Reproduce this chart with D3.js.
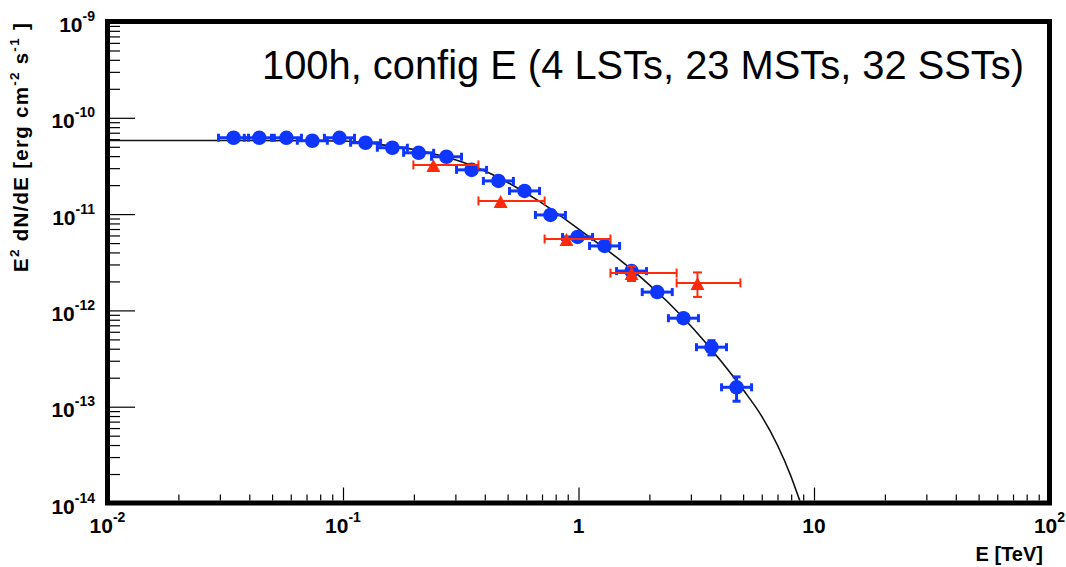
<!DOCTYPE html>
<html><head><meta charset="utf-8">
<script src="https://cdn.jsdelivr.net/npm/d3@7"></script>
<style>
html,body{margin:0;padding:0;background:#fff;}
text{font-family:"Liberation Sans",Arial,Helvetica,sans-serif;}
</style></head>
<body><svg id="c" width="1066" height="567"></svg>
<script>
// ---- data ----
const blueE   = [0.0343,0.0441,0.0575,0.0741,0.0966,0.1247,0.162,0.2095,0.275,0.3515,0.457,0.590,0.760,0.991,1.29,1.68,2.16,2.79,3.67,4.69];
const blueF   = [6.21e-11,6.2e-11,6.2e-11,5.78e-11,6.2e-11,5.51e-11,4.89e-11,4.33e-11,3.94e-11,2.88e-11,2.21e-11,1.74e-11,9.8e-12,5.79e-12,4.67e-12,2.56e-12,1.55e-12,8.3e-13,4.15e-13,1.59e-13];
const blueELo = [0.0296,0.0381,0.0497,0.0640,0.0834,0.1077,0.1399,0.1809,0.2375,0.3035,0.3946,0.5095,0.6563,0.8558,1.114,1.451,1.865,2.409,3.169,4.050];
const blueEHi = [0.0397,0.0511,0.0666,0.0858,0.1119,0.1444,0.1876,0.2426,0.3185,0.4070,0.5292,0.6832,0.8801,1.1476,1.494,1.945,2.501,3.231,4.250,5.431];
const blueFErr= [1.0e-12,1.0e-12,1.0e-12,1.0e-12,1.0e-12,1.0e-12,1.0e-12,1.0e-12,1.0e-12,0.8e-12,0.7e-12,0.6e-12,0.4e-12,0.3e-12,0.25e-12,0.15e-12,0.12e-12,1.2e-13,0.7e-13,0.45e-13];

const redE    = [0.242,0.467,0.889,1.68,3.20];
const redF    = [3.24e-11,1.37e-11,5.51e-12,2.44e-12,1.93e-12];
const redELo  = [0.199,0.376,0.718,1.367,2.61];
const redEHi  = [0.376,0.718,1.367,2.61,4.87];
const redFErr = [1.5e-12,0.6e-12,0.3e-12,0.42e-12,0.55e-12];

const curveE  = [0.01,0.0333,0.1005,0.144,0.188,0.242,0.325,0.411,0.530,0.690,0.897,1.159,1.507,1.888,2.388,3.076,4.009,5.023,5.929,6.998,7.943,8.511,9.016];
const curveF  = [5.82e-11,5.82e-11,5.75e-11,5.27e-11,4.81e-11,4.23e-11,3.43e-11,2.72e-11,1.97e-11,1.33e-11,8.51e-12,5.37e-12,3.31e-12,2.09e-12,1.23e-12,6.46e-13,3.02e-13,1.48e-13,8.32e-14,3.98e-14,1.95e-14,1.23e-14,8.3e-15];

const xTickValues = [0.01,0.1,1,10,100];
const xTickBase   = ["10","10","1","10","10"];
const xTickSup    = ["-2","-1","","","2"];
const yTickValues = [1e-14,1e-13,1e-12,1e-11,1e-10,1e-9];
const yTickBase   = ["10","10","10","10","10","10"];
const yTickSup    = ["-14","-13","-12","-11","-10","-9"];

const annotation = "100h, config E (4 LSTs, 23 MSTs, 32 SSTs)";
const xTitle = "E [TeV]";

// ---- drawing ----
const svg = d3.select("#c");
const L=107.5, R=1049.5, T=21.5, B=503;
const x = d3.scaleLog().domain([0.01,100]).range([L,R]);
const y = d3.scaleLog().domain([1e-14,1e-9]).range([B,T]);
const BLUE="#0f36ff", RED="#ff2a0a";

svg.append("rect").attr("width",1066).attr("height",567).attr("fill","#fff");

// minor tick values
const xMinor=[], yMinor=[];
for (let d=-2; d<2; d++) for (let m=2;m<=9;m++) xMinor.push(m*Math.pow(10,d));
for (let d=-14; d<-9; d++) for (let m=2;m<=9;m++) yMinor.push(m*Math.pow(10,d));

function ticks(g){ g.select(".domain").remove(); g.selectAll("line").attr("stroke","#000").attr("stroke-width",1.2); g.selectAll("text").remove(); }

svg.append("g").attr("transform","translate(110,0)")
  .call(d3.axisRight(y).tickValues(yMinor).tickSize(10).tickFormat("")).call(ticks);
svg.append("g").attr("transform","translate(110,0)")
  .call(d3.axisRight(y).tickValues(yTickValues).tickSize(25).tickFormat("")).call(ticks);
svg.append("g").attr("transform","translate(0,500.5)")
  .call(d3.axisTop(x).tickValues(xMinor).tickSize(6).tickFormat("")).call(ticks);
svg.append("g").attr("transform","translate(0,500.5)")
  .call(d3.axisTop(x).tickValues(xTickValues).tickSize(13).tickFormat("")).call(ticks);

// tick labels
yTickValues.forEach((v,i)=>{
  const t = svg.append("text").attr("x",95).attr("y",y(v)+10.5)
    .attr("text-anchor","end").attr("font-weight","bold").attr("font-size",21);
  t.append("tspan").text(yTickBase[i]);
  t.append("tspan").attr("dy",-11).attr("font-size",14).text(yTickSup[i]);
});
xTickValues.forEach((v,i)=>{
  const t = svg.append("text").attr("x",x(v)).attr("y",533)
    .attr("text-anchor","middle").attr("font-weight","bold").attr("font-size",21);
  t.append("tspan").text(xTickBase[i]);
  if (xTickSup[i]) t.append("tspan").attr("dy",-11).attr("font-size",14).text(xTickSup[i]);
});

// axis titles
svg.append("text").attr("x",1043).attr("y",561).attr("text-anchor","end")
  .attr("font-weight","bold").attr("font-size",20).text(xTitle);

const yt = svg.append("text").attr("transform","translate(28,272) rotate(-90)")
  .attr("font-weight","bold").attr("font-size",20.5);
yt.append("tspan").text("E");
yt.append("tspan").attr("dy",-9).attr("font-size",13.5).text("2");
yt.append("tspan").attr("dy",9).text(" dN/dE [erg cm");
yt.append("tspan").attr("dy",-9).attr("font-size",13.5).text("-2");
yt.append("tspan").attr("dy",9).text(" s");
yt.append("tspan").attr("dy",-9).attr("font-size",13.5).text("-1");
yt.append("tspan").attr("dy",9).text(" ]");
{
  const len = yt.node().getComputedTextLength();
  const n = yt.text().length;
  yt.attr("letter-spacing", Math.max(0,(250-len)/n).toFixed(2));
}

// clip
svg.append("clipPath").attr("id","clip").append("rect")
  .attr("x",L+2.5).attr("y",T+2.5).attr("width",R-L-5).attr("height",B-T-5);

// curve
const curvePts = curveE.map((e,i)=>({E:e,F:curveF[i]}));
svg.append("path").attr("clip-path","url(#clip)")
  .attr("d", d3.line().x(d=>x(d.E)).y(d=>y(d.F)).curve(d3.curveMonotoneX)(curvePts))
  .attr("fill","none").attr("stroke","#111").attr("stroke-width",1.6);

// blue points
const gb = svg.append("g");
blueE.forEach((e,i)=>{
  const cx=x(e), cy=y(blueF[i]);
  const x0=x(blueELo[i]), x1=x(blueEHi[i]);
  gb.append("line").attr("x1",x0).attr("x2",x1).attr("y1",cy).attr("y2",cy).attr("stroke",BLUE).attr("stroke-width",3);
  [x0,x1].forEach(xx=>gb.append("line").attr("x1",xx).attr("x2",xx).attr("y1",cy-4).attr("y2",cy+4).attr("stroke",BLUE).attr("stroke-width",3));
  const y0=y(blueF[i]+blueFErr[i]), y1=y(blueF[i]-blueFErr[i]);
  gb.append("line").attr("x1",cx).attr("x2",cx).attr("y1",y0).attr("y2",y1).attr("stroke",BLUE).attr("stroke-width",3);
  if (y1-y0 > 14) [y0,y1].forEach(yy=>gb.append("line").attr("x1",cx-4).attr("x2",cx+4).attr("y1",yy).attr("y2",yy).attr("stroke",BLUE).attr("stroke-width",3));
  gb.append("circle").attr("cx",cx).attr("cy",cy).attr("r",7.3).attr("fill",BLUE);
});

// red points
const gr = svg.append("g");
redE.forEach((e,i)=>{
  const cx=x(e), cy=y(redF[i]);
  const x0=x(redELo[i]), x1=x(redEHi[i]);
  gr.append("line").attr("x1",x0).attr("x2",x1).attr("y1",cy).attr("y2",cy).attr("stroke",RED).attr("stroke-width",2);
  [x0,x1].forEach(xx=>gr.append("line").attr("x1",xx).attr("x2",xx).attr("y1",cy-4.5).attr("y2",cy+4.5).attr("stroke",RED).attr("stroke-width",2));
  const y0=y(redF[i]+redFErr[i]), y1=y(redF[i]-redFErr[i]);
  gr.append("line").attr("x1",cx).attr("x2",cx).attr("y1",y0).attr("y2",y1).attr("stroke",RED).attr("stroke-width",2);
  if (y1-y0 > 12) [y0,y1].forEach(yy=>gr.append("line").attr("x1",cx-4.5).attr("x2",cx+4.5).attr("y1",yy).attr("y2",yy).attr("stroke",RED).attr("stroke-width",2));
  gr.append("path").attr("transform",`translate(${cx},${cy+1})`).attr("d","M0,-7L7,6L-7,6Z").attr("fill",RED);
});

// frame
svg.append("rect").attr("x",L).attr("y",T).attr("width",R-L).attr("height",B-T)
  .attr("fill","none").attr("stroke","#000").attr("stroke-width",5);

// annotation
svg.append("text").attr("x",262).attr("y",79).attr("font-size",40)
  .attr("textLength",762).attr("lengthAdjust","spacingAndGlyphs").attr("fill","#000").text(annotation);
</script></body></html>
